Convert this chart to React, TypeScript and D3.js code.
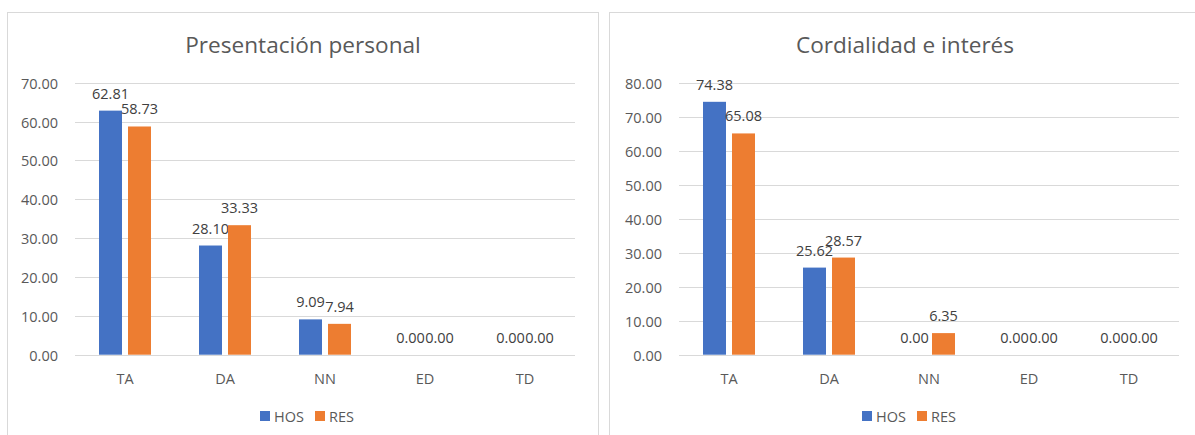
import React from "react";
import * as d3 from "d3";

const categories = ["TA", "DA", "NN", "ED", "TD"];
const seriesNames = ["HOS", "RES"];

const presHos = [62.81, 28.1, 9.09, 0, 0];
const presRes = [58.73, 33.33, 7.94, 0, 0];
const presTicks = [0, 10, 20, 30, 40, 50, 60, 70];

const cordHos = [74.38, 25.62, 0, 0, 0];
const cordRes = [65.08, 28.57, 6.35, 0, 0];
const cordTicks = [0, 10, 20, 30, 40, 50, 60, 70, 80];

const colors = ["#4472C4", "#ED7D31"];
const textColor = "#595959";
const gridColor = "#d9d9d9";
const font = "'Open Sans', sans-serif";

type ChartProps = {
  title: string;
  hos: number[];
  res: number[];
  ticks: number[];
  panelX: number;
  plotLeft: number;
};

function Chart({ title, hos, res, ticks, panelX, plotLeft }: ChartProps) {
  const panelW = 591;
  const plotTop = 82.7;
  const plotBottom = 354.7;
  const plotW = 500;

  const x0 = d3.scaleBand().domain(categories).range([plotLeft, plotLeft + plotW]).padding(0);
  const x1 = d3.scaleBand().domain(seriesNames).range([0, 52]).paddingInner(6 / 29).paddingOuter(0);
  const y = d3
    .scaleLinear()
    .domain([0, d3.max(ticks) as number])
    .range([plotBottom, plotTop]);

  const values = [hos, res];
  const cx = panelX + panelW / 2;

  return (
    <g>
      <rect x={panelX} y={12.5} width={panelW} height={440} fill="#fff" stroke={gridColor} strokeWidth={1} />
      <text x={cx} y={53} textAnchor="middle" fontFamily={font} fontSize={22.6} fill={textColor}>
        {title}
      </text>
      {/* grid + y ticks */}
      {ticks.map((t) => (
        <g key={t}>
          <line x1={plotLeft} x2={plotLeft + plotW} y1={Math.round(y(t)) + 0.5} y2={Math.round(y(t)) + 0.5} stroke={gridColor} strokeWidth={1} />
          <text x={plotLeft - 17} y={y(t) + 6} textAnchor="end" fontFamily={font} fontSize={14.5} fill={textColor}>
            {t.toFixed(2)}
          </text>
        </g>
      ))}
      {/* bars */}
      {categories.map((c, i) => (
        <g key={c}>
          {seriesNames.map((s, j) => {
            const v = values[j][i];
            const bx = (x0(c) as number) + 24 + (x1(s) as number);
            const bw = x1.bandwidth();
            return (
              <g key={s}>
                <rect x={bx} y={y(v)} width={bw} height={plotBottom - y(v)} fill={colors[j]} />
                <text x={bx + bw / 2} y={y(v) - 12} textAnchor="middle" fontFamily={font} fontSize={14.5} fill="#404040">
                  {v.toFixed(2)}
                </text>
              </g>
            );
          })}
          <text x={(x0(c) as number) + x0.bandwidth() / 2} y={384} textAnchor="middle" fontFamily={font} fontSize={14.5} fill={textColor}>
            {c}
          </text>
        </g>
      ))}
      {/* legend */}
      <g transform={`translate(${cx - 43},0)`}>
        {seriesNames.map((s, j) => (
          <g key={s} transform={`translate(${j * 55},0)`}>
            <rect x={0} y={411} width={10} height={10} fill={colors[j]} />
            <text x={14} y={421.5} fontFamily={font} fontSize={14.5} fill={textColor}>
              {s}
            </text>
          </g>
        ))}
      </g>
    </g>
  );
}

export default function App() {
  return (
    <div style={{ position: "absolute", left: 0, top: 0 }}>
      <svg width={1195} height={435} style={{ display: "block", background: "#fff" }}>
        <Chart title="Presentación personal" hos={presHos} res={presRes} ticks={presTicks} panelX={7.5} plotLeft={75} />
        <Chart title="Cordialidad e interés" hos={cordHos} res={cordRes} ticks={cordTicks} panelX={609.5} plotLeft={679} />
      </svg>
    </div>
  );
}
